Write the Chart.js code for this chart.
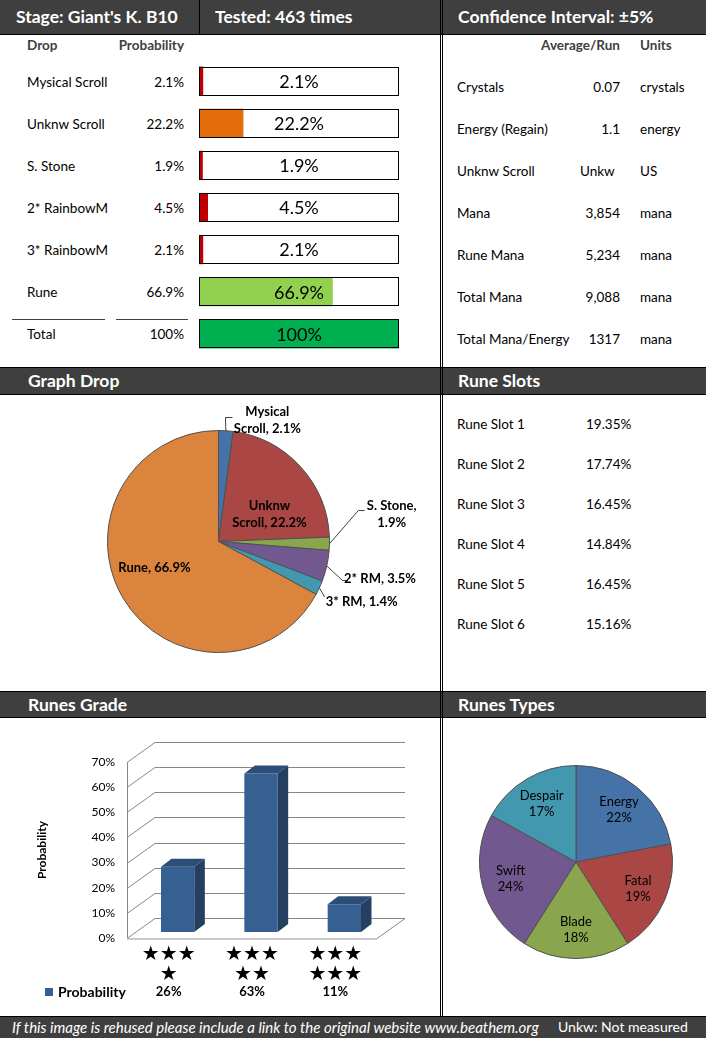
<!DOCTYPE html>
<html>
<head>
<meta charset="utf-8">
<title>Giant's K. B10</title>
<script src="https://cdn.jsdelivr.net/npm/chart.js@4.4.1/dist/chart.umd.min.js"></script>
<style>
  body { margin: 0; background: #fff; }
  #page { position: relative; width: 706px; height: 1038px; overflow: hidden; background: #fff; font-family: Lato, 'Open Sans', sans-serif; }
  .band { position: absolute; left: 0; width: 706px; background: #3f3f3f; border-top: 1px solid #000; border-bottom: 1px solid #000; box-sizing: border-box; }
  .hd { position: absolute; color: #fff; font-weight: bold; font-size: 17.5px; line-height: 20px; white-space: nowrap; }
  .t { position: absolute; font-size: 13.5px; line-height: 16px; white-space: nowrap; color: #000; }
  .b { font-weight: bold; color: #404040; }
  .rule { position: absolute; height: 1px; background: #404040; }
  canvas { position: absolute; }
</style>
</head>
<body>
<div id="page">
  <!-- bandes de titre -->
  <div class="band" style="top:0;height:35px;border-top:none;"></div>
  <div class="band" style="top:367px;height:28px;"></div>
  <div class="band" style="top:691px;height:27px;"></div>
  <div class="band" style="top:1016px;height:22px;border-bottom:none;"></div>
  <div style="position:absolute;left:199px;top:0;width:1px;height:34px;background:#000;"></div>
  <div style="position:absolute;left:440px;top:0;width:3px;height:1016px;border-left:1px solid #000;border-right:1px solid #000;box-sizing:border-box;"></div>

  <div class="hd" style="left:16px;top:7px;">Stage: Giant's K. B10</div>
  <div class="hd" style="left:215px;top:7px;">Tested: 463 times</div>
  <div class="hd" style="left:458px;top:7px;">Confidence Interval: ±5%</div>
  <div class="hd" style="left:28px;top:371px;">Graph Drop</div>
  <div class="hd" style="left:458px;top:371px;">Rune Slots</div>
  <div class="hd" style="left:28px;top:695px;">Runes Grade</div>
  <div class="hd" style="left:458px;top:695px;">Runes Types</div>
  <div class="hd" style="left:12px;top:1017px;font-weight:normal;font-style:italic;font-size:15px;">If this image is rehused please include a link to the original website www.beathem.org</div>
  <div class="hd" style="left:558px;top:1017px;font-weight:normal;font-size:14px;">Unkw: Not measured</div>

  <div class="rule" style="left:12px;top:319px;width:93px;"></div>
  <div class="rule" style="left:116px;top:319px;width:72px;"></div>

  <canvas id="dropBars" width="220" height="295" style="left:190px;top:60px;"></canvas>
  <canvas id="dropPie" width="340" height="270" style="left:100px;top:395px;"></canvas>
  <canvas id="gradeChart" width="440" height="298" style="left:0;top:718px;"></canvas>
  <canvas id="typePie" width="266" height="298" style="left:440px;top:718px;"></canvas>
</div>

<script>
// ===== données =====
var dropItems = ['Mysical Scroll', 'Unknw Scroll', 'S. Stone', '2* RainbowM', '3* RainbowM', 'Rune', 'Total'];
var dropProb = [2.1, 22.2, 1.9, 4.5, 2.1, 66.9, 100];

var pieNames = ['Mysical Scroll', 'Unknw Scroll', 'S. Stone', '2* RM', '3* RM', 'Rune'];
var pieValues = [2.1, 22.2, 1.9, 4.5, 2.1, 66.9];
var pieText = ['2.1%', '22.2%', '1.9%', '3.5%', '1.4%', '66.9%'];

var avgItems = ['Crystals', 'Energy (Regain)', 'Unknw Scroll', 'Mana', 'Rune Mana', 'Total Mana', 'Total Mana/Energy'];
var avgValues = ['0.07', '1.1', 'Unkw', '3,854', '5,234', '9,088', '1317'];
var avgUnits = ['crystals', 'energy', 'US', 'mana', 'mana', 'mana', 'mana'];

var slotNames = ['Rune Slot 1', 'Rune Slot 2', 'Rune Slot 3', 'Rune Slot 4', 'Rune Slot 5', 'Rune Slot 6'];
var slotValues = ['19.35%', '17.74%', '16.45%', '14.84%', '16.45%', '15.16%'];

var gradeLabels = [['★★★', '★'], ['★★★', '★★'], ['★★★', '★★★']];
var gradeValues = [26, 63, 11];
var gradeMax = 70;

var typeNames = ['Energy', 'Fatal', 'Blade', 'Swift', 'Despair'];
var typeValues = [22, 19, 18, 24, 17];

// ===== styles =====
var dropBarColors = ['#C00000', '#E46C0A', '#C00000', '#C00000', '#C00000', '#92D050', '#00B050'];
var pieColors = ['#4572A7', '#AA4643', '#89A54E', '#71588F', '#4198AF', '#DB843D'];
var typeColors = ['#4572A7', '#AA4643', '#89A54E', '#71588F', '#4198AF'];

var page = document.getElementById('page');
function txt(s, x, y, cls, right) {
  var d = document.createElement('div');
  d.className = 't ' + (cls || '');
  d.textContent = s;
  d.style.top = (y - 8) + 'px';
  if (right) {
    d.style.left = (x - 200) + 'px';
    d.style.width = '200px';
    d.style.textAlign = 'right';
  } else {
    d.style.left = x + 'px';
  }
  page.appendChild(d);
}

// tableau des drops
txt('Drop', 27, 45, 'b');
txt('Probability', 184, 45, 'b', true);
dropItems.forEach(function(name, i) {
  txt(name, 27, 82 + 42 * i);
  txt(dropProb[i] + '%', 184, 82 + 42 * i, '', true);
});

// moyenne par run
txt('Average/Run', 620, 45, 'b', true);
txt('Units', 640, 45, 'b');
avgItems.forEach(function(name, i) {
  var y = 87 + 42 * i;
  txt(name, 457, y);
  if (/^[\d.,]+$/.test(avgValues[i])) txt(avgValues[i], 620, y, '', true);
  else txt(avgValues[i], 580, y);
  txt(avgUnits[i], 640, y);
});

// rune slots
slotNames.forEach(function(name, i) {
  txt(name, 457, 424 + 40 * i);
  txt(slotValues[i], 586, 424 + 40 * i);
});

var base = { responsive: false, animation: false, events: [] };

// ---- barres de probabilité ----
var boxPlugin = {
  id: 'boxes',
  afterDatasetsDraw: function(chart) {
    var ctx = chart.ctx, xs = chart.scales.x;
    var x0 = Math.round(xs.getPixelForValue(0)), x1 = Math.round(xs.getPixelForValue(100));
    chart.getDatasetMeta(0).data.forEach(function(bar, i) {
      var top = Math.round(bar.y - bar.height / 2), h = Math.round(bar.height);
      ctx.save();
      ctx.strokeStyle = '#000';
      ctx.lineWidth = 1;
      ctx.strokeRect(x0 + 0.5, top + 0.5, x1 - x0 - 1, h - 1);
      ctx.fillStyle = '#000';
      ctx.font = '18px Lato';
      ctx.textAlign = 'center';
      ctx.textBaseline = 'middle';
      ctx.fillText(dropProb[i] + '%', (x0 + x1) / 2, bar.y + 1);
      ctx.restore();
    });
  }
};

new Chart(document.getElementById('dropBars'), {
  type: 'bar',
  data: {
    labels: dropItems,
    datasets: [{ data: dropProb, backgroundColor: dropBarColors, borderWidth: 0, barPercentage: 0.69, categoryPercentage: 1 }]
  },
  options: Object.assign({}, base, {
    indexAxis: 'y',
    layout: { padding: { left: 9, right: 11, top: 0, bottom: 0 } },
    plugins: { legend: { display: false }, tooltip: { enabled: false } },
    scales: {
      x: { display: false, min: 0, max: 100 },
      y: { display: false }
    }
  }),
  plugins: [boxPlugin]
});

// ---- camembert des drops ----
// placement des étiquettes, en rayons depuis le centre
var pieLayout = [
  { at: [0.44, -1.095], wrap: 'word', leader: [[0.063, -1.117], [0.126, -1.117]] },
  { at: [0.459, -0.248], wrap: 'word' },
  { at: [1.56, -0.243], wrap: 'comma', leader: [[1.26, -0.279], [1.315, -0.279]] },
  { at: [1.455, 0.333], leader: [[1.117, 0.351], [1.153, 0.351]] },
  { at: [1.29, 0.541], leader: [[0.955, 0.50]] },
  { at: [-0.577, 0.234] }
];

var pieLabelPlugin = {
  id: 'pieLabels',
  afterDatasetsDraw: function(chart) {
    var ctx = chart.ctx;
    chart.getDatasetMeta(0).data.forEach(function(arc, i) {
      var L = pieLayout[i], cx = arc.x, cy = arc.y, r = arc.outerRadius;
      var lines = [pieNames[i] + ', ' + pieText[i]];
      if (L.wrap === 'word') {
        var k = pieNames[i].indexOf(' ');
        lines = [pieNames[i].slice(0, k), pieNames[i].slice(k + 1) + ', ' + pieText[i]];
      } else if (L.wrap === 'comma') {
        lines = [pieNames[i] + ',', pieText[i]];
      }
      ctx.save();
      if (L.leader) {
        var mid = (arc.startAngle + arc.endAngle) / 2;
        ctx.strokeStyle = '#404040';
        ctx.lineWidth = 1;
        ctx.beginPath();
        ctx.moveTo(cx + Math.cos(mid) * r, cy + Math.sin(mid) * r);
        L.leader.forEach(function(p) { ctx.lineTo(cx + p[0] * r, cy + p[1] * r); });
        ctx.stroke();
      }
      ctx.fillStyle = '#000';
      ctx.font = 'bold 13px Lato';
      ctx.textAlign = 'center';
      ctx.textBaseline = 'middle';
      var lx = cx + L.at[0] * r, ly = cy + L.at[1] * r - (lines.length - 1) * 8.5;
      lines.forEach(function(s, j) { ctx.fillText(s, lx, ly + j * 17); });
      ctx.restore();
    });
  }
};

new Chart(document.getElementById('dropPie'), {
  type: 'pie',
  data: {
    labels: pieNames,
    datasets: [{ data: pieValues, backgroundColor: pieColors, borderColor: '#505050', borderWidth: 1, hoverOffset: 0 }]
  },
  options: Object.assign({}, base, {
    layout: { padding: { left: 7, top: 35, right: 110, bottom: 12 } },
    plugins: { legend: { display: false }, tooltip: { enabled: false } }
  }),
  plugins: [pieLabelPlugin]
});

// ---- runes grade (barres 3D) ----
var front = [-9, 6], back = [19, -14], depth = [10.5, -8];

function seg(ctx, x1, y1, x2, y2) {
  ctx.beginPath();
  ctx.moveTo(x1, y1);
  ctx.lineTo(x2, y2);
  ctx.stroke();
}
function poly(ctx, pts, color) {
  ctx.beginPath();
  ctx.moveTo(pts[0][0], pts[0][1]);
  for (var i = 1; i < pts.length; i++) ctx.lineTo(pts[i][0], pts[i][1]);
  ctx.closePath();
  ctx.fillStyle = color;
  ctx.fill();
}

var grade3d = {
  id: 'grade3d',
  beforeDatasetsDraw: function(chart) {
    var ctx = chart.ctx, a = chart.chartArea, ys = chart.scales.y;
    var L = Math.round(a.left), R = Math.round(a.right);
    ctx.save();
    ctx.lineWidth = 1;
    ctx.strokeStyle = '#868686';
    ys.ticks.forEach(function(t) {
      var y = Math.round(ys.getPixelForValue(t.value)) + 0.5;
      seg(ctx, L + front[0], y + front[1], L + back[0], y + back[1]);
      seg(ctx, L + back[0], y + back[1], R + back[0], y + back[1]);
    });
    var y0 = Math.round(ys.getPixelForValue(0)) + 0.5;
    var yt = Math.round(ys.getPixelForValue(gradeMax)) + 0.5;
    seg(ctx, L + front[0] + 0.5, y0 + front[1], L + front[0] + 0.5, yt + front[1]);
    seg(ctx, R + front[0], y0 + front[1], R + back[0], y0 + back[1]);
    ctx.strokeStyle = '#c8c8c8';
    ctx.lineWidth = 2;
    seg(ctx, L + front[0], y0 + front[1] + 0.5, R + front[0], y0 + front[1] + 0.5);
    ctx.restore();
  },
  afterDatasetsDraw: function(chart) {
    var ctx = chart.ctx, xs = chart.scales.x;
    ctx.save();
    chart.getDatasetMeta(0).data.forEach(function(bar) {
      var l = bar.x - bar.width / 2, r = bar.x + bar.width / 2, top = bar.y, b = bar.base;
      poly(ctx, [[r, top], [r + depth[0], top + depth[1]], [r + depth[0], b + depth[1]], [r, b]], '#243F60');
      poly(ctx, [[l, top], [r, top], [r + depth[0], top + depth[1]], [l + depth[0], top + depth[1]]], '#2C4D75');
    });
    // tableau de données sous l'axe
    ctx.fillStyle = '#376092';
    ctx.fillRect(45, 270, 8, 8);
    ctx.fillStyle = '#000';
    ctx.textBaseline = 'middle';
    ctx.font = 'bold 14px Lato';
    ctx.textAlign = 'left';
    ctx.fillText('Probability', 58, 274);
    ctx.font = 'bold 13px Lato';
    ctx.textAlign = 'center';
    gradeValues.forEach(function(v, i) {
      ctx.fillText(v + '%', xs.getPixelForTick(i) + front[0], 274);
    });
    // titre de l'axe
    ctx.translate(42, 132);
    ctx.rotate(-Math.PI / 2);
    ctx.font = 'bold 12px Lato';
    ctx.fillText('Probability', 0, 0);
    ctx.restore();
  }
};

new Chart(document.getElementById('gradeChart'), {
  type: 'bar',
  data: {
    labels: gradeLabels,
    datasets: [{ label: 'Probability', data: gradeValues, backgroundColor: '#376092', borderWidth: 0, barPercentage: 0.4, categoryPercentage: 1 }]
  },
  options: Object.assign({}, base, {
    layout: { padding: { left: 0, top: 38, right: 54, bottom: 0 } },
    plugins: { legend: { display: false }, tooltip: { enabled: false } },
    scales: {
      x: {
        grid: { display: false, drawTicks: false },
        border: { display: false },
        ticks: { font: { family: 'DejaVu Sans', size: 20, lineHeight: 1 }, color: '#000', padding: 13, labelOffset: front[0], maxRotation: 0 },
        afterFit: function(s) { s.height = 84; }
      },
      y: {
        min: 0, max: gradeMax,
        grid: { display: false, drawTicks: false },
        border: { display: false },
        ticks: { stepSize: 10, font: { family: 'Lato', size: 12 }, color: '#000', padding: 21, labelOffset: front[1], callback: function(v) { return v + '%'; } },
        afterFit: function(s) { s.width = 136; }
      }
    }
  }),
  plugins: [grade3d]
});

// ---- runes types ----
var typeLabelPlugin = {
  id: 'typeLabels',
  afterDatasetsDraw: function(chart) {
    var ctx = chart.ctx;
    ctx.save();
    ctx.fillStyle = '#000';
    ctx.font = '13px Lato';
    ctx.textAlign = 'center';
    ctx.textBaseline = 'middle';
    chart.getDatasetMeta(0).data.forEach(function(arc, i) {
      var mid = (arc.startAngle + arc.endAngle) / 2, d = arc.outerRadius * 0.7;
      var x = arc.x + Math.cos(mid) * d, y = arc.y + Math.sin(mid) * d;
      ctx.fillText(typeNames[i], x, y - 8);
      ctx.fillText(typeValues[i] + '%', x, y + 8);
    });
    ctx.restore();
  }
};

new Chart(document.getElementById('typePie'), {
  type: 'pie',
  data: {
    labels: typeNames,
    datasets: [{ data: typeValues, backgroundColor: typeColors, borderColor: '#505050', borderWidth: 1, hoverOffset: 0 }]
  },
  options: Object.assign({}, base, {
    layout: { padding: { left: 39, top: 47, right: 33, bottom: 57 } },
    plugins: { legend: { display: false }, tooltip: { enabled: false } }
  }),
  plugins: [typeLabelPlugin]
});
</script>
</body>
</html>
